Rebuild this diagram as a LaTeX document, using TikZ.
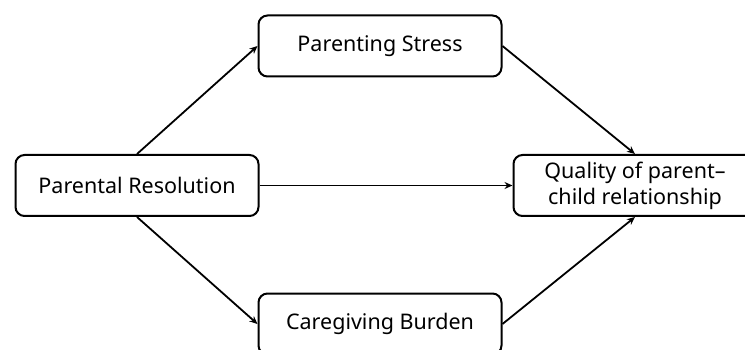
\documentclass[tikz,border=0pt]{standalone}
\usepackage{fontspec}
\setmainfont{Noto Sans}
\usetikzlibrary{
  arrows.meta,
}

\begin{document}
\begin{tikzpicture}[
    x=1pt, y=1pt,
    line width=2pt,
    arr/.style={line width=1.8pt, -{Stealth[length=8pt, width=7pt]}},
    box/.style={draw=black, fill=white, rounded corners=9pt, align=center,
        minimum width=243pt, minimum height=61pt, inner sep=0pt,
        font=\fontsize{21.5}{26}\selectfont},
  ]
  \useasboundingbox (0,0) rectangle (745,-350);
  \clip (0,0) rectangle (745,-350);

  \node[box] (res) at (137,-185.5) {Parental Resolution};
  \node[box] (stress) at (380,-46) {Parenting Stress};
  \node[box] (burden) at (380,-324) {Caregiving Burden};
  \node[box] (qual) at (635,-185.5) {Quality of parent--\\child relationship};

  \foreach \a/\b in {res.north/stress.west, stress.east/qual.north,
      res.east/qual.west, res.south/burden.west, burden.east/qual.south} {
      \draw[arr] (\a) -- (\b);
    }
\end{tikzpicture}
\end{document}
